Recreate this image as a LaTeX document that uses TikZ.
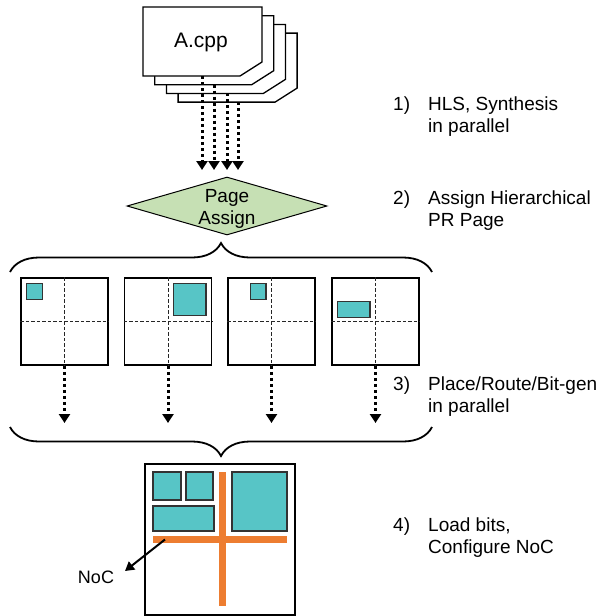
\documentclass[tikz,border=0pt]{standalone}
\usepackage{fontspec}
\setmainfont{Liberation Sans}
\usetikzlibrary{arrows.meta, shapes.geometric, decorations.pathreplacing, positioning}

\definecolor{blockteal}{HTML}{57C5C6}
\definecolor{nocorange}{HTML}{ED7D31}
\definecolor{pagegreen}{HTML}{C6E0B4}

\tikzset{
  doc/.style={draw=black, fill=white, line width=1.3pt, line join=miter},
  flow/.style={line width=3pt, dash pattern=on 3pt off 3pt, -{Triangle[width=11pt,length=9pt]}},
  pagebox/.style={draw=black, line width=1.5pt, minimum size=87pt, inner sep=0pt},
  split/.style={draw=black!85, line width=0.8pt, dash pattern=on 3.5pt off 2pt},
  block/.style={draw=black!80, fill=blockteal, line width=1.5pt},
  curly/.style={decorate, decoration={brace, amplitude=29pt}, line width=1.8pt},
  stepnum/.style={anchor=west, inner sep=0pt, font=\fontsize{19}{22}\selectfont},
  steptext/.style={anchor=west, inner sep=0pt, align=left, font=\fontsize{19}{22}\selectfont}
}

\begin{document}
\begin{tikzpicture}[x=1pt, y=-1pt]
\useasboundingbox (0,0) rectangle (602,616);

% source files
\draw [doc] (178.1,33.1) -- (297.1,33.1) -- (297.1,88.1) -- (275.1,102.1) -- (178.1,102.1) -- cycle;
\draw [doc] (166.4,24.4) -- (285.4,24.4) -- (285.4,79.4) -- (263.4,93.4) -- (166.4,93.4) -- cycle;
\draw [doc] (154.7,15.7) -- (273.7,15.7) -- (273.7,70.7) -- (251.7,84.7) -- (154.7,84.7) -- cycle;
\draw [doc] (143,7) -- (262,7) -- (262,62) -- (240,76) -- (143,76) -- cycle;
\node [font=\fontsize{21}{24}\selectfont] (src) at (201,42) {A.cpp};

\coordinate (d1) at (202,76);
\coordinate (d2) at (214,84.7);
\coordinate (d3) at (227,93.4);
\coordinate (d4) at (238,102.1);
\coordinate (into) at (227,170);
\draw [flow] (d1) -- (d1 |- into);
\draw [flow] (d2) -- (d2 |- into);
\draw [flow] (d3) -- (d3 |- into);
\draw [flow] (d4) -- (d4 |- into);

% page assignment
\node [diamond, draw=black, fill=pagegreen, line width=1pt, minimum width=200pt, minimum height=58pt, inner sep=0pt] (assign) at (227,206) {};
\node [align=center, font=\fontsize{19}{22}\selectfont] (assigntxt) at (227,208.5) {Page\\Assign};

\draw [curly] (10,272) -- (432,272);

% PR pages
\node [pagebox] (pg1) at (64.5,321.5) {};
\node [pagebox] (pg2) at (168,321.5) {};
\node [pagebox] (pg3) at (271.5,321.5) {};
\node [pagebox] (pg4) at (375.5,321.5) {};
\draw [split] (pg1.north) -- (pg1.south) (pg1.west) -- (pg1.east);
\draw [split] (pg2.north) -- (pg2.south) (pg2.west) -- (pg2.east);
\draw [split] (pg3.north) -- (pg3.south) (pg3.west) -- (pg3.east);
\draw [split] (pg4.north) -- (pg4.south) (pg4.west) -- (pg4.east);
\draw [block] (26.7,283.3) rectangle (42.7,299.3);
\draw [block] (173.3,283.3) rectangle (206,315.7);
\draw [block] (250.3,283.3) rectangle (266,299.3);
\draw [block] (337.7,301.7) rectangle (370,317.3);

\coordinate (gather) at (221,423);
\draw [flow] (pg1.south) -- (pg1.south |- gather);
\draw [flow] (pg2.south) -- (pg2.south |- gather);
\draw [flow] (pg3.south) -- (pg3.south |- gather);
\draw [flow] (pg4.south) -- (pg4.south |- gather);

\draw [curly] (432,427) -- (10,427);

% configured device
\node [draw=black, line width=1.5pt, minimum width=150pt, minimum height=151pt, inner sep=0pt] (chip) at (220,539.5) {};
\draw [block, line width=2pt] (152.7,472.3) rectangle (180.7,500);
\draw [block, line width=2pt] (186,472.3) rectangle (213.3,500);
\draw [block, line width=2pt] (152.7,506) rectangle (214,530.7);
\draw [block, line width=2pt] (231.7,472.3) rectangle (287.3,530.7);
\fill [nocorange] (219,472.3) rectangle (225.7,605.7);
\fill [nocorange] (152.7,536) rectangle (287.3,542.7);

\node [font=\fontsize{18}{22}\selectfont] (noc) at (96,577) {NoC};
\coordinate (nocbar) at (165,539.5);
\coordinate (noctip) at (125,571);
\draw [line width=2pt, -{Triangle[width=10pt,length=9pt]}] (nocbar) -- (noctip);

% steps
\node [stepnum] (n1) at (393,106) {1)};
\node [steptext] (t1) at (428,116.5) {HLS, Synthesis\\in parallel};
\node [stepnum] (n2) at (393,200) {2)};
\node [steptext] (t2) at (428,211) {Assign Hierarchical\\PR Page};
\node [stepnum] (n3) at (393,386) {3)};
\node [steptext] (t3) at (428,396.5) {Place/Route/Bit-gen\\in parallel};
\node [stepnum] (n4) at (393,527) {4)};
\node [steptext] (t4) at (428,538) {Load bits,\\Configure NoC};

\end{tikzpicture}
\end{document}
